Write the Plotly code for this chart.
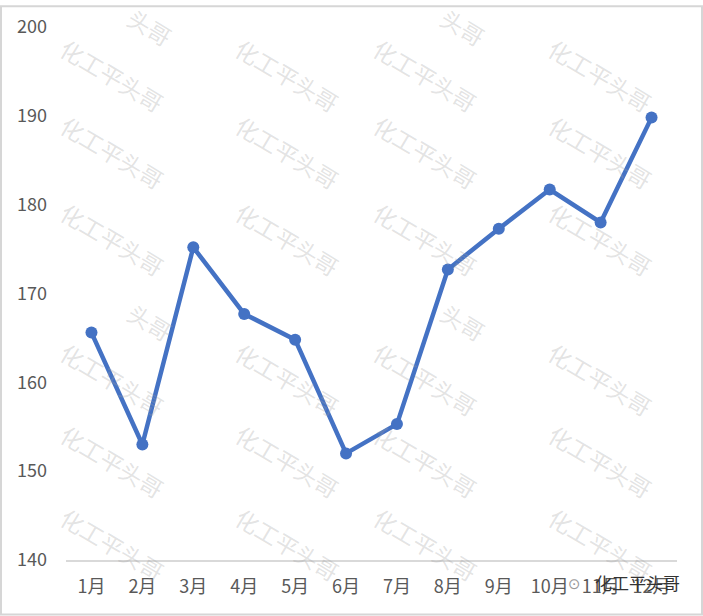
import plotly.graph_objects as go

months = ["1月", "2月", "3月", "4月", "5月", "6月", "7月", "8月", "9月", "10月", "11月", "12月"]
values = [165.6, 153.0, 175.2, 167.7, 164.8, 152.0, 155.3, 172.7, 177.3, 181.7, 178.0, 189.8]
y_ticks = [140, 150, 160, 170, 180, 190, 200]

W, H = 703, 616
L, R, T, B = 66, 26, 22, 56
PW, PH = W - L - R, H - T - B

def px(x, y):
    return (x - L) / PW, (H - B - y) / PH

fig = go.Figure()
fig.add_trace(go.Scatter(
    x=months, y=values, mode="lines+markers",
    line=dict(color="#4472C4", width=4.5),
    marker=dict(color="#4472C4", size=12),
    hoverinfo="x+y", showlegend=False,
))

annotations = []
WM_COLOR = "rgba(160,160,160,0.3)"
wm_cols = [112, 287, 425, 600]
wm_rows = [70, 148, 236, 377, 460, 544]
for cx in wm_cols:
    for cy in wm_rows:
        ax_, ay_ = px(cx, cy)
        annotations.append(dict(
            x=ax_, y=ay_, xref="paper", yref="paper", text="化工平头哥",
            xanchor="center", yanchor="middle",
            showarrow=False, textangle=31,
            font=dict(family="Noto Sans CJK SC", size=23, color=WM_COLOR),
        ))
# partial watermark fragments
for cx in [150, 463]:
    for cy in [22, 320]:
        ax_, ay_ = px(cx, cy)
        annotations.append(dict(
            x=ax_, y=ay_, xref="paper", yref="paper", text="头哥",
            xanchor="center", yanchor="middle",
            showarrow=False, textangle=31,
            font=dict(family="Noto Sans CJK SC", size=23, color=WM_COLOR),
        ))

bx, by = px(637, 583)
annotations.append(dict(
    x=bx, y=by, xref="paper", yref="paper", text="化工平头哥",
    xanchor="center", yanchor="middle",
    showarrow=False, font=dict(family="Noto Sans CJK SC", size=17, color="#333333"),
))
ix, iy = px(574, 584)
annotations.append(dict(
    x=ix, y=iy, xref="paper", yref="paper", text="⊙",
    xanchor="center", yanchor="middle",
    showarrow=False, font=dict(family="DejaVu Sans", size=15, color="#999999"),
))

x0, y1 = px(1, 1)
x1, y0 = px(W - 1, H - 1)

fig.update_layout(
    width=W, height=H,
    margin=dict(l=L, r=R, t=T, b=B),
    paper_bgcolor="white", plot_bgcolor="rgba(0,0,0,0)",
    annotations=annotations,
    shapes=[dict(type="rect", xref="paper", yref="paper", x0=x0, x1=x1, y0=y0, y1=y1,
                 line=dict(color="#d6d6d6", width=2), layer="below")],
    xaxis=dict(
        type="category", range=[-0.5, 11.5], showgrid=False, zeroline=False,
        showline=True, linecolor="#d9d9d9", linewidth=1.5, ticks="",
        tickfont=dict(family="Noto Sans CJK SC", size=18, color="#595959"),
        ticklabelstandoff=10,
    ),
    yaxis=dict(
        range=[140, 200], tickvals=y_ticks, showgrid=False, zeroline=False,
        showline=False, ticks="",
        tickfont=dict(family="Noto Sans CJK SC", size=18, color="#595959"),
        ticklabelstandoff=18,
    ),
)

fig.write_html("out.html", config={"displayModeBar": False},
               post_script="document.body.style.margin='0';")
